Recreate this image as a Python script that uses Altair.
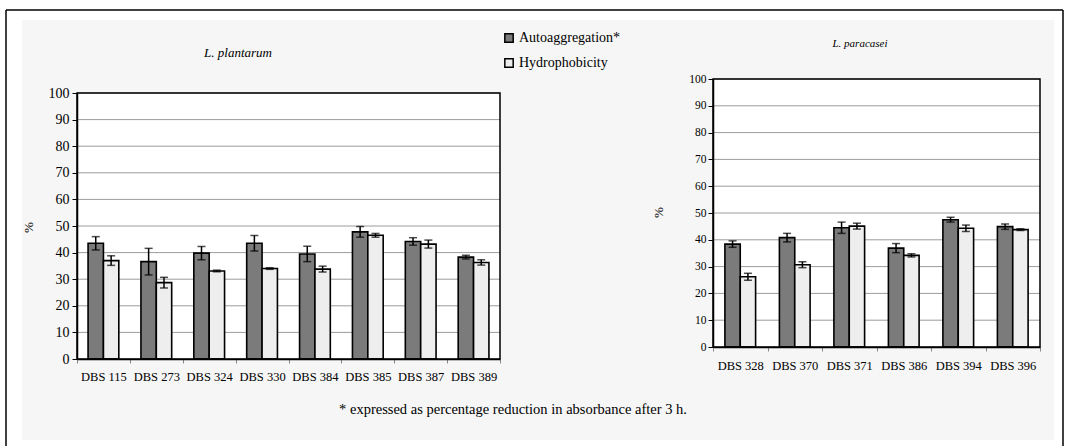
import altair as alt
import pandas as pd

W, H = 1066, 446
SERIF = "Liberation Serif"
SERIES = ["Autoaggregation*", "Hydrophobicity"]
FILLS = ["#7b7b7b", "#eeeeee"]

# ---- data ----
left_strains = ["DBS 115", "DBS 273", "DBS 324", "DBS 330", "DBS 384", "DBS 385", "DBS 387", "DBS 389"]
left_auto = [43.5, 36.6, 39.8, 43.5, 39.5, 47.8, 44.2, 38.3]
left_auto_err = [2.5, 5.0, 2.5, 2.9, 2.9, 2.0, 1.4, 0.7]
left_hydro = [37.0, 28.7, 33.1, 34.0, 33.8, 46.5, 43.2, 36.3]
left_hydro_err = [1.8, 2.0, 0.3, 0.3, 1.1, 0.7, 1.5, 1.0]

right_strains = ["DBS 328", "DBS 370", "DBS 371", "DBS 386", "DBS 394", "DBS 396"]
right_auto = [38.4, 40.8, 44.5, 36.9, 47.5, 44.9]
right_auto_err = [1.2, 1.6, 2.1, 1.7, 0.9, 1.0]
right_hydro = [26.2, 30.7, 45.1, 34.2, 44.3, 43.8]
right_hydro_err = [1.3, 1.1, 1.1, 0.6, 1.2, 0.3]

y_ticks = list(range(0, 101, 10))
grid_vals = list(range(10, 101, 10))

left_title = "L. plantarum"
right_title = "L. paracasei"
footnote = "* expressed as percentage reduction in absorbance after 3 h."


def make_df(strains, auto, auto_err, hydro, hydro_err):
    rows = []
    for s, a, ae, h, he in zip(strains, auto, auto_err, hydro, hydro_err):
        rows.append({"strain": s, "series": SERIES[0], "value": a, "lo": a - ae, "hi": a + ae})
        rows.append({"strain": s, "series": SERIES[1], "value": h, "lo": h - he, "hi": h + he})
    return pd.DataFrame(rows)


one = pd.DataFrame({"k": [0]})


def panel(df, strains, x0, x1, ytop, ybot, off_pad, tick_fs, cat_fs, tick_pad, cat_pad,
          pct_x, pct_y, show_legend):
    xsc = alt.Scale(domain=strains, range=[x0, x1], paddingInner=0, paddingOuter=0)
    xosc = alt.Scale(domain=SERIES, paddingInner=0, paddingOuter=off_pad)
    ysc = alt.Scale(domain=[0, 100], range=[ybot, ytop], nice=False, zero=False)

    bg = alt.Chart(one).mark_rect(fill="white").encode(
        x=alt.value(x0), x2=alt.value(x1), y=alt.value(ytop), y2=alt.value(ybot))

    grid = alt.Chart(pd.DataFrame({"g": grid_vals})).mark_rule(
        color="#9c9c9c", strokeWidth=1).encode(
        y=alt.Y("g:Q", scale=ysc, axis=None), x=alt.value(x0), x2=alt.value(x1))

    if show_legend:
        legend = alt.Legend(orient="none", legendX=502, legendY=31, title=None,
                            symbolType="square", symbolSize=70, symbolStrokeColor="black",
                            symbolStrokeWidth=1.5, labelFont=SERIF, labelFontSize=14,
                            labelColor="black", rowPadding=9, labelOffset=3, padding=0,
                            zindex=2)
        fill = alt.Fill("series:N", scale=alt.Scale(domain=SERIES, range=FILLS), legend=legend)
    else:
        fill = alt.Fill("series:N", scale=alt.Scale(domain=SERIES, range=FILLS), legend=None)

    bars = alt.Chart(df).mark_bar(stroke="black", strokeWidth=1.6).encode(
        x=alt.X("strain:N", scale=xsc, sort=strains,
                axis=alt.Axis(orient="bottom", offset=-(H - ybot), labelAngle=0, title=None,
                              domainColor="black", domainWidth=1.5, tickColor="#888888",
                              tickSize=4, tickBand="extent", labelFont=SERIF,
                              labelFontSize=cat_fs, labelColor="black", labelPadding=cat_pad,
                              zindex=1)),
        xOffset=alt.XOffset("series:N", scale=xosc, sort=SERIES),
        y=alt.Y("value:Q", scale=ysc,
                axis=alt.Axis(orient="left", offset=-x0, values=y_ticks, grid=False,
                              domainColor="black", domainWidth=1.5, tickColor="black",
                              tickSize=5, labelFont=SERIF, labelFontSize=tick_fs,
                              labelColor="black", labelPadding=tick_pad, title="%",
                              titleFont=SERIF, titleFontSize=13, titleFontWeight="normal",
                              titleColor="black", titleX=pct_x - x0, titleY=pct_y,
                              zindex=1)),
        fill=fill,
    )

    err = alt.Chart(df).mark_rule(color="black", strokeWidth=1.5).encode(
        x=alt.X("strain:N", scale=xsc, sort=strains, axis=None),
        xOffset=alt.XOffset("series:N", scale=xosc, sort=SERIES),
        y=alt.Y("lo:Q", scale=ysc, axis=None), y2="hi:Q")

    caps = alt.Chart(df).transform_fold(["lo", "hi"], as_=["end", "yv"]).mark_tick(
        color="black", thickness=1.5, size=8).encode(
        x=alt.X("strain:N", scale=xsc, sort=strains, axis=None),
        xOffset=alt.XOffset("series:N", scale=xosc, sort=SERIES),
        y=alt.Y("yv:Q", scale=ysc, axis=None))

    border = alt.Chart(one).mark_rect(fill="transparent", stroke="black", strokeWidth=1.5).encode(
        x=alt.value(x0), x2=alt.value(x1), y=alt.value(ytop), y2=alt.value(ybot))

    return [bg, grid, bars, err, caps, border]


left_df = make_df(left_strains, left_auto, left_auto_err, left_hydro, left_hydro_err)
right_df = make_df(right_strains, right_auto, right_auto_err, right_hydro, right_hydro_err)

# frame / background
outer_bg = alt.Chart(one).mark_rect(fill="#f6f6f6").encode(
    x=alt.value(22), x2=alt.value(1054), y=alt.value(20), y2=alt.value(440))
frame_top = alt.Chart(one).mark_rule(color="black", strokeWidth=1.5).encode(
    x=alt.value(6), x2=alt.value(1063), y=alt.value(10))
frame_left = alt.Chart(one).mark_rule(color="black", strokeWidth=1.5).encode(
    x=alt.value(6), y=alt.value(10), y2=alt.value(H))
frame_right = alt.Chart(one).mark_rule(color="black", strokeWidth=1.5).encode(
    x=alt.value(1063), y=alt.value(10), y2=alt.value(H))

left_layers = panel(left_df, left_strains, 77, 500, 93, 359, 0.72, 14, 12.5, 3, 7, 35, 227, True)
right_layers = panel(right_df, right_strains, 713, 1040, 79, 347, 0.775, 11.5, 12.5, 2, 8, 665, 212, False)

title_l = alt.Chart(pd.DataFrame({"t": [left_title]})).mark_text(
    font=SERIF, fontSize=13, fontStyle="italic", color="black").encode(
    text="t:N", x=alt.value(238), y=alt.value(53))
title_r = alt.Chart(pd.DataFrame({"t": [right_title]})).mark_text(
    font=SERIF, fontSize=11, fontStyle="italic", color="black").encode(
    text="t:N", x=alt.value(860), y=alt.value(44))
foot = alt.Chart(pd.DataFrame({"t": [footnote]})).mark_text(
    font=SERIF, fontSize=14.5, color="black").encode(
    text="t:N", x=alt.value(513), y=alt.value(410))

chart = alt.layer(
    outer_bg, frame_top, frame_left, frame_right,
    *left_layers, *right_layers, title_l, title_r, foot
).resolve_scale(
    x="independent", y="independent", xOffset="independent"
).properties(
    width=W, height=H, padding=0, autosize=alt.AutoSizeParams(type="none"), background="white"
).configure_view(stroke="transparent").configure_legend(
    labelFont=SERIF, labelFontSize=14, labelColor="black"
).configure_axis(labelFont=SERIF, titleFont=SERIF)

chart.save("out.html", embed_options={"renderer": "svg", "actions": False})
